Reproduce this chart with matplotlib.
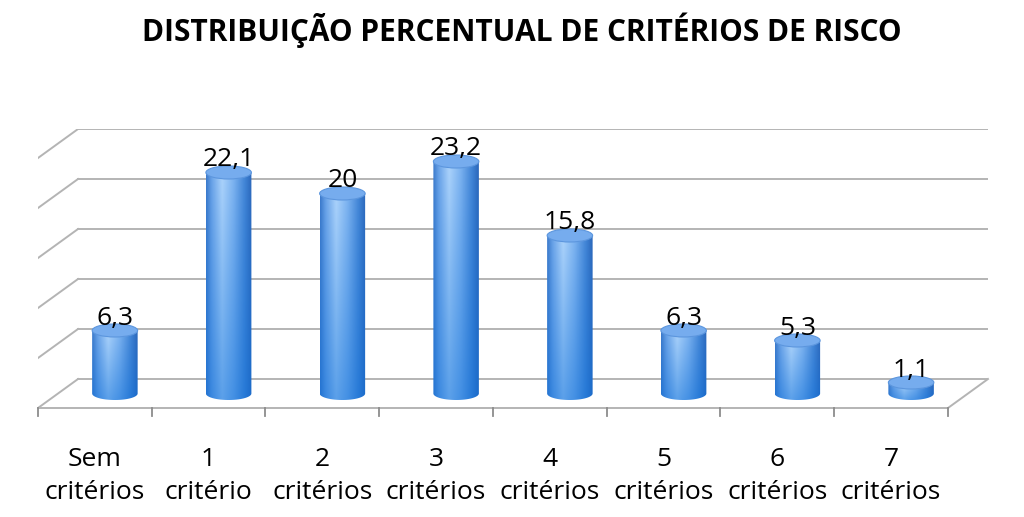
import numpy as np
import matplotlib.pyplot as plt
from matplotlib.patches import Ellipse, PathPatch
from matplotlib.path import Path
from matplotlib.colors import LinearSegmentedColormap, to_rgb

# data
categories = ['Sem\ncritérios', '1\ncritério', '2\ncritérios', '3\ncritérios',
              '4\ncritérios', '5\ncritérios', '6\ncritérios', '7\ncritérios']
values = [6.3, 22.1, 20, 23.2, 15.8, 6.3, 5.3, 1.1]
value_labels = ['6,3', '22,1', '20', '23,2', '15,8', '6,3', '5,3', '1,1']
grid_vals = [0, 5, 10, 15, 20, 25]
title = 'DISTRIBUIÇÃO PERCENTUAL DE CRITÉRIOS DE RISCO'

plt.rcParams['font.family'] = ['Open Sans', 'DejaVu Sans']

# fake 3d depth
dx = 0.352   # in category units
dy = 2.9     # in value units
n = len(values)
xmax = n - 0.5 + dx

fig = plt.figure(figsize=(10.24, 5.17), dpi=100)
ax = fig.add_axes([38/1024, (517-408)/517, 950/1024, 279/517])
ax.axis('off')

gcol = '#b4b4b4'
# back wall gridlines + side wall diagonals
for v in grid_vals:
    ax.plot([-0.5 + dx, xmax], [v, v], color=gcol, lw=1.4, zorder=1)
    ax.plot([-0.5, -0.5 + dx], [v - dy, v], color=gcol, lw=1.4, zorder=1)
# floor
ax.plot([-0.5, n - 0.5], [-dy, -dy], color=gcol, lw=1.4, zorder=1, clip_on=False)
ax.plot([n - 0.5, xmax], [-dy, 0], color=gcol, lw=1.4, zorder=1, clip_on=False)
for k in range(n + 1):
    ax.plot([k - 0.5, k - 0.5], [-dy, -dy - 0.8], color='#8c8c8c', lw=1.3,
            zorder=1, clip_on=False)

# cylinder shading
hmap = LinearSegmentedColormap.from_list('cyl', [
    (0.0, '#3d7bcc'), (0.12, '#6aa3e8'), (0.35, '#acd3fb'),
    (0.6, '#7db3f0'), (0.85, '#4285d6'), (1.0, '#2c68bb')])
u = np.linspace(0, 1, 60)
row = hmap(u)[:, :3]
deep = np.array(to_rgb('#0c6ed8'))

w = 0.2      # half width
h = 1.3      # ellipse height
for i, v in enumerate(values):
    xc = i + dx / 2
    base = -dy / 2
    top = v - dy / 2
    t = np.linspace(0, np.pi, 40)
    verts = [(xc - w, base), (xc - w, top), (xc + w, top), (xc + w, base)]
    verts += list(zip(xc + w * np.cos(t), base - (h / 2) * np.sin(t)))
    body = PathPatch(Path(verts), facecolor='none', edgecolor='none')
    ax.add_patch(body)
    vv = np.linspace(0, 1, 50)[:, None, None]
    mix = 0.5 * (1 - vv)
    img = row[None, :, :] * (1 - mix) + deep[None, None, :] * mix
    im = ax.imshow(img, extent=[xc - w, xc + w, base - h / 2, top],
                   origin='lower', aspect='auto', zorder=3, interpolation='bilinear')
    im.set_clip_path(body)
    ax.add_patch(Ellipse((xc, top), 2 * w, h, facecolor='#76acee',
                         edgecolor='#5c96de', lw=0.8, zorder=4))
    ax.text(xc, top + 0.6, value_labels[i], ha='center', va='baseline',
            fontsize=19, color='black', zorder=5)

for i, c in enumerate(categories):
    ax.text(i, -6.8, c, ha='center', va='top', fontsize=19,
            linespacing=1.42, clip_on=False)

ax.set_xlim(-0.5, xmax)
ax.set_ylim(-2.9, 25.0)

fig.text(0.51, 1 - 30/517, title, ha='center', va='center',
         fontsize=21.5, fontweight='bold')

fig.savefig('out.png', dpi=100, facecolor='white')
